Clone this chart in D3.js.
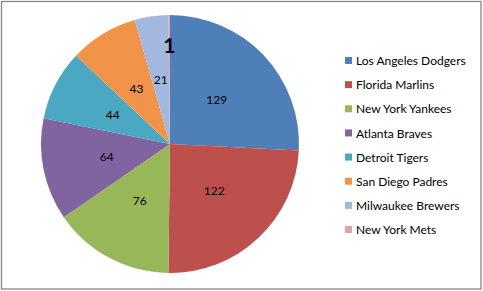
<!DOCTYPE html>
<html>
<head>
<meta charset="utf-8">
<script src="https://cdn.jsdelivr.net/npm/d3@7"></script>
<style>
  body { margin: 0; background: #fff; }
  svg { display: block; font-family: Lato, "Liberation Sans", sans-serif; }
</style>
</head>
<body>
<script>
const width = 483, height = 291

const teams = ["Los Angeles Dodgers", "Florida Marlins", "New York Yankees", "Atlanta Braves",
    "Detroit Tigers", "San Diego Padres", "Milwaukee Brewers", "New York Mets"]
const wins = [129, 122, 76, 64, 44, 43, 21, 1]
const colors = ["#4F7FB8", "#BD504D", "#98B758", "#7F64A0", "#4BA8C2", "#F19449", "#A3B8E0", "#E3A3A2"]

const data = teams.map((t, i) => ({ team: t, value: wins[i], color: colors[i] }))

const svg = d3.select("body")
    .append("svg")
    .attr("width", width)
    .attr("height", height)

// chart border
svg.append("rect")
    .attr("x", 1.5).attr("y", 1.5)
    .attr("width", 479.5).attr("height", 287.5)
    .attr("fill", "#fff")
    .attr("stroke", "#868686")
    .attr("stroke-width", 1.3)

const cx = 170, cy = 144, radius = 129

const pie = d3.pie().sort(null).value(d => d.value)
const arc = d3.arc().innerRadius(0).outerRadius(radius)
const labelArc = d3.arc().innerRadius(radius * 0.5).outerRadius(radius * 0.5)
const smallLabelArc = d3.arc().innerRadius(radius * 0.76).outerRadius(radius * 0.76)

const g = svg.append("g").attr("transform", `translate(${cx},${cy})`)

const arcs = pie(data)

g.selectAll("path")
    .data(arcs)
    .enter().append("path")
    .attr("d", arc)
    .attr("fill", d => d.data.color)

g.selectAll(".lbl")
    .data(arcs)
    .enter().append("text")
    .attr("class", "lbl")
    .attr("transform", d => {
        const p = d.data.value < 5 ? smallLabelArc.centroid(d) : labelArc.centroid(d)
        return `translate(${p})`
    })
    .attr("dy", "0.35em")
    .attr("text-anchor", "middle")
    .style("font-size", d => d.data.value < 5 ? "21px" : "12px")
    .style("font-weight", d => d.data.value < 5 ? "bold" : "normal")
    .attr("fill", "#000")
    .text(d => d.data.value)

// legend
const legendY = d3.scalePoint().domain(teams).range([61, 230])

const legend = svg.append("g")
    .selectAll("g")
    .data(data)
    .enter().append("g")
    .attr("transform", d => `translate(345,${legendY(d.team)})`)

legend.append("rect")
    .attr("x", 0).attr("y", -4)
    .attr("width", 7).attr("height", 7)
    .attr("fill", d => d.color)

legend.append("text")
    .attr("x", 11)
    .attr("dy", "0.35em")
    .style("font-size", "12px")
    .attr("fill", "#000")
    .text(d => d.team)
</script>
</body>
</html>
